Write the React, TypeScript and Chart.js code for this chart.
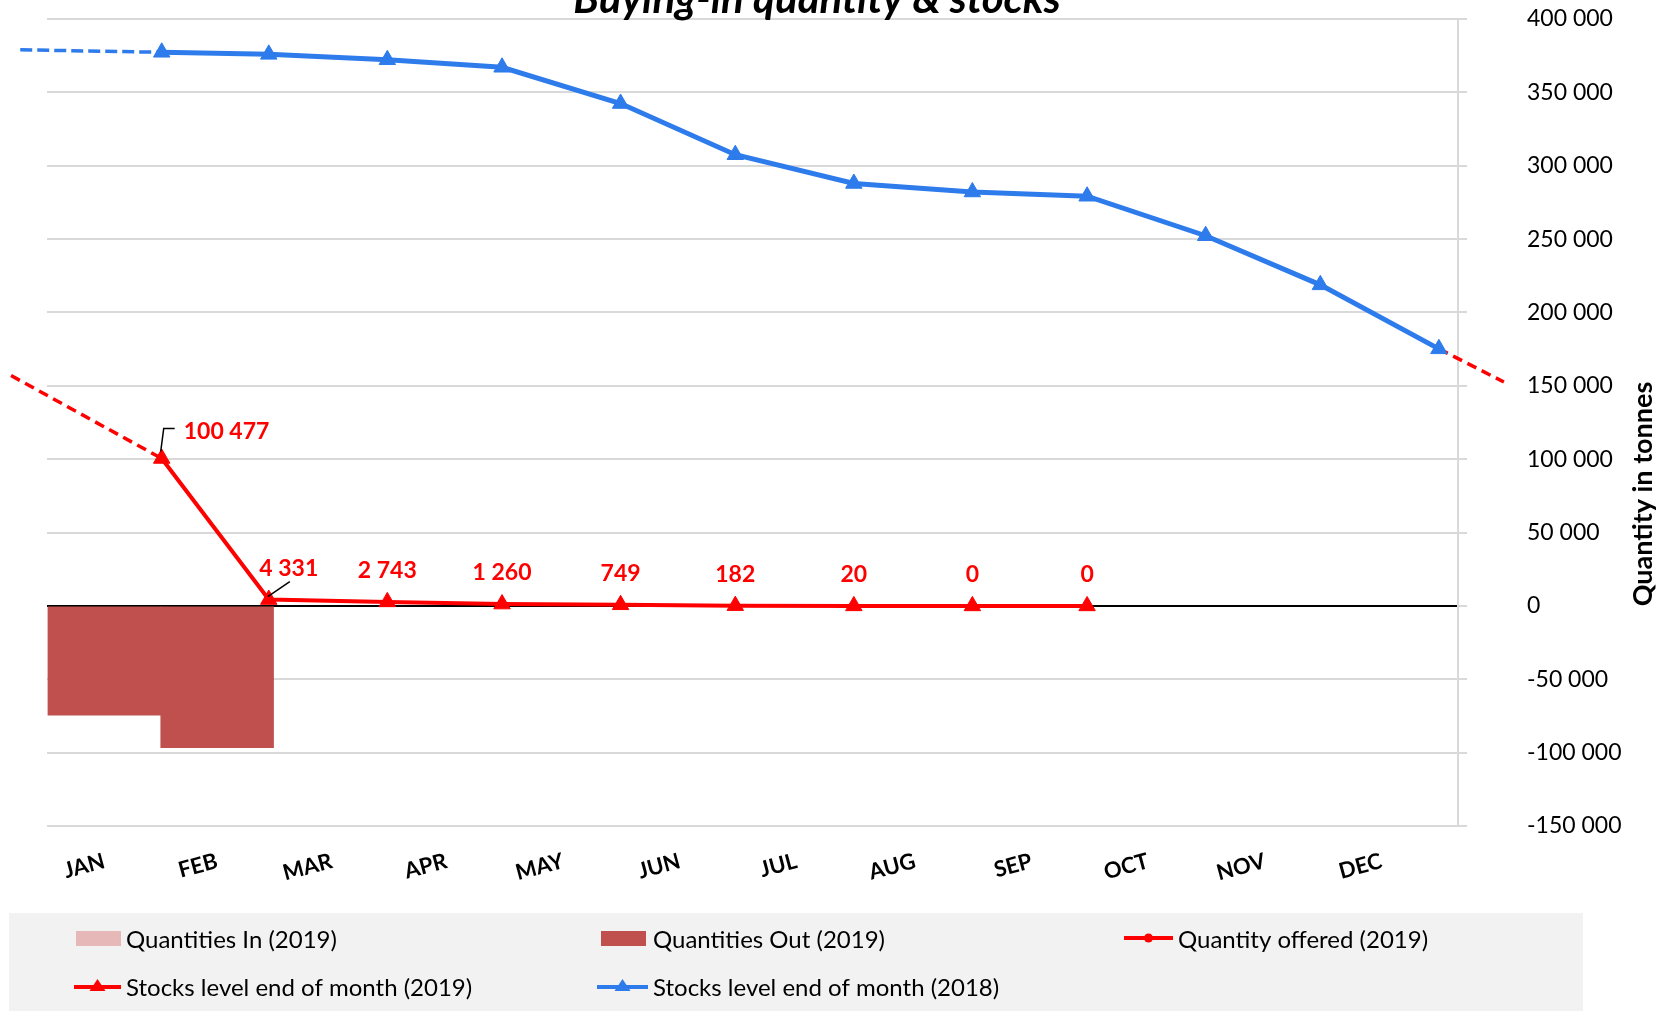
import React, { useEffect, useRef } from 'react';
import { Chart, registerables } from 'chart.js';

Chart.register(...registerables);

// ---------- data ----------
const monthLabels = ['JAN', 'FEB', 'MAR', 'APR', 'MAY', 'JUN', 'JUL', 'AUG', 'SEP', 'OCT', 'NOV', 'DEC'];
// day-of-year of the middle / the end of each month
const monthMidDay = [16, 45.5, 75.5, 105.5, 136, 166.5, 197, 228, 258.5, 289, 319.5, 350];
const monthEndDay = [31, 59, 90, 120, 151, 181, 212, 243, 273, 304, 334, 365];

const quantitiesIn2019: (number | null)[] = [null, null, null, null, null, null, null, null, null, null, null, null];
const quantitiesOut2019: (number | null)[] = [-74500, -96700, null, null, null, null, null, null, null, null, null, null];
const quantityOffered2019: (number | null)[] = [null, null, null, null, null, null, null, null, null, null, null, null];
const stocks2019: (number | null)[] = [100477, 4331, 2743, 1260, 749, 182, 20, 0, 0, null, null, null];
const stocks2018: (number | null)[] = [377300, 375900, 372200, 367100, 342400, 307500, 287900, 282100, 279200, 252300, 218800, 175200];

// dashed links to the neighbouring years
const link2018PrevX = [-6, 31];
const link2018PrevY = [379000, 377300];
const link2019PrevX = [-8.4, 31];
const link2019PrevY = [157000, 100477];
const link2019NextX = [365, 382];
const link2019NextY = [175200, 152600];

const yMin = -150000;
const yMax = 400000;
const yStep = 50000;
const xMinDay = 1;
const xMaxDay = 370;

const TITLE = 'Buying-in quantity & stocks';
const Y_TITLE = 'Quantity in tonnes';

// ---------- styles ----------
const RED = '#FF0000';
const BLUE = '#2E7BEB';
const BAR_OUT = '#C0504D';
const BAR_IN = '#E6B9B8';
const GRID = '#D9D9D9';
const FONT = 'Lato';

const fmt = (v: number) => {
  const s = Math.abs(Math.round(v)).toString().replace(/\B(?=(\d{3})+(?!\d))/g, ' ');
  return (v < 0 ? '-' : '') + s;
};
const pts = (xs: number[], ys: (number | null)[]) => xs.map((x, i) => ({ x, y: ys[i] }));

const labelStyle: Record<number, any> = {
  0: { dx: 22, dy: -27, align: 'left', leader: [[-1, -7], [2, -30], [13, -30]] },
  1: { dx: 20, dy: -31, align: 'center', leader: [[-1, -3], [21, -18]] },
};

function drawTriangle(ctx: CanvasRenderingContext2D, x: number, y: number, w: number, h: number) {
  ctx.beginPath();
  ctx.moveTo(x, y - h / 2);
  ctx.lineTo(x + w / 2, y + h / 2);
  ctx.lineTo(x - w / 2, y + h / 2);
  ctx.closePath();
  ctx.fill();
}

const decorPlugin = {
  id: 'decor',
  afterDatasetsDraw(chart: any) {
    const ctx: CanvasRenderingContext2D = chart.ctx;
    const meta = chart.getDatasetMeta(0);
    ctx.save();
    ctx.font = `bold 23px ${FONT}`;
    ctx.textBaseline = 'middle';
    meta.data.forEach((el: any, i: number) => {
      const v = stocks2019[i];
      if (v === null || v === undefined) return;
      const st = labelStyle[i] || { dx: 0, dy: -31, align: 'center' };
      ctx.textAlign = st.align;
      ctx.fillStyle = RED;
      ctx.fillText(fmt(v), el.x + st.dx, el.y + st.dy);
      if (st.leader) {
        ctx.strokeStyle = '#000';
        ctx.lineWidth = 1.5;
        ctx.beginPath();
        st.leader.forEach((p: number[], k: number) => {
          if (k === 0) ctx.moveTo(el.x + p[0], el.y + p[1]);
          else ctx.lineTo(el.x + p[0], el.y + p[1]);
        });
        ctx.stroke();
      }
    });
    ctx.restore();
  },
  afterDraw(chart: any) {
    const ctx: CanvasRenderingContext2D = chart.ctx;
    ctx.save();
    // title (cut by the top edge)
    ctx.font = `italic bold 42px ${FONT}`;
    ctx.fillStyle = '#000';
    ctx.textAlign = 'center';
    ctx.textBaseline = 'alphabetic';
    ctx.fillText(TITLE, 817, 13);

    // y axis title, reading bottom-to-top
    ctx.save();
    ctx.translate(1643, 494);
    ctx.rotate(-Math.PI / 2);
    ctx.font = `bold 27px ${FONT}`;
    ctx.textAlign = 'center';
    ctx.textBaseline = 'middle';
    ctx.fillText(Y_TITLE, 0, 0);
    ctx.restore();

    // legend
    ctx.fillStyle = '#F2F2F2';
    ctx.fillRect(9, 913, 1574, 98);
    ctx.font = `24px ${FONT}`;
    ctx.textAlign = 'left';
    ctx.textBaseline = 'middle';
    const ds = chart.data.datasets;
    const row1 = 940;
    const row2 = 988;
    // Quantities In
    ctx.fillStyle = BAR_IN;
    ctx.fillRect(76, 931, 45, 15);
    ctx.fillStyle = '#000';
    ctx.fillText(ds[6].label, 126, row1);
    // Quantities Out
    ctx.fillStyle = BAR_OUT;
    ctx.fillRect(601, 931, 45, 15);
    ctx.fillStyle = '#000';
    ctx.fillText(ds[7].label, 653, row1);
    // Quantity offered
    ctx.strokeStyle = RED;
    ctx.lineWidth = 4;
    ctx.beginPath();
    ctx.moveTo(1124, 938);
    ctx.lineTo(1173, 938);
    ctx.stroke();
    ctx.fillStyle = RED;
    ctx.beginPath();
    ctx.arc(1148.5, 938, 4.5, 0, Math.PI * 2);
    ctx.fill();
    ctx.fillStyle = '#000';
    ctx.fillText(ds[2].label, 1178, row1);
    // Stocks 2019
    ctx.strokeStyle = RED;
    ctx.beginPath();
    ctx.moveTo(74, 987);
    ctx.lineTo(121, 987);
    ctx.stroke();
    ctx.fillStyle = RED;
    drawTriangle(ctx, 97.5, 985, 16, 12);
    ctx.fillStyle = '#000';
    ctx.fillText(ds[0].label, 126, row2);
    // Stocks 2018
    ctx.strokeStyle = BLUE;
    ctx.beginPath();
    ctx.moveTo(597, 987);
    ctx.lineTo(648, 987);
    ctx.stroke();
    ctx.fillStyle = BLUE;
    drawTriangle(ctx, 622.5, 985, 16, 12);
    ctx.fillStyle = '#000';
    ctx.fillText(ds[1].label, 653, row2);
    ctx.restore();
  },
};

export default function App() {
  const canvasRef = useRef<HTMLCanvasElement | null>(null);

  useEffect(() => {
    const canvas = canvasRef.current;
    if (!canvas) return;
    Chart.defaults.font.family = FONT;
    const lineCommon = { showLine: true, spanGaps: false, tension: 0, clip: false as any };
    const chart = new Chart(canvas, {
      type: 'line',
      data: {
        datasets: [
          {
            ...lineCommon,
            type: 'line',
            label: 'Stocks level end of month (2019)',
            data: pts(monthEndDay, stocks2019),
            borderColor: RED,
            backgroundColor: RED,
            borderWidth: 4,
            pointStyle: 'triangle',
            pointRadius: 9.5,
            pointBorderWidth: 1,
            pointBackgroundColor: RED,
            pointBorderColor: RED,
            order: 1,
          },
          {
            ...lineCommon,
            type: 'line',
            label: 'Stocks level end of month (2018)',
            data: pts(monthEndDay, stocks2018),
            borderColor: BLUE,
            backgroundColor: BLUE,
            borderWidth: 5,
            pointStyle: 'triangle',
            pointRadius: 9.5,
            pointBorderWidth: 1,
            pointBackgroundColor: BLUE,
            pointBorderColor: BLUE,
            order: 2,
          },
          {
            ...lineCommon,
            type: 'line',
            label: 'Quantity offered (2019)',
            data: pts(monthEndDay, quantityOffered2019),
            borderColor: RED,
            backgroundColor: RED,
            borderWidth: 3.5,
            pointStyle: 'circle',
            pointRadius: 4,
            order: 1,
          },
          {
            ...lineCommon,
            type: 'line',
            label: 'link 2018 prev',
            data: pts(link2018PrevX, link2018PrevY),
            borderColor: BLUE,
            borderWidth: 3.5,
            borderDash: [12, 5],
            pointRadius: 0,
            order: 3,
          },
          {
            ...lineCommon,
            type: 'line',
            label: 'link 2019 prev',
            data: pts(link2019PrevX, link2019PrevY),
            borderColor: RED,
            borderWidth: 3.5,
            borderDash: [10, 6],
            pointRadius: 0,
            order: 3,
          },
          {
            ...lineCommon,
            type: 'line',
            label: 'link 2019 next',
            data: pts(link2019NextX, link2019NextY),
            borderColor: RED,
            borderWidth: 3.5,
            borderDash: [10, 6],
            pointRadius: 0,
            order: 3,
          },
          {
            type: 'bar',
            label: 'Quantities In (2019)',
            data: pts(monthMidDay, quantitiesIn2019),
            backgroundColor: BAR_IN,
            grouped: false,
            barPercentage: 1,
            categoryPercentage: 1,
            order: 5,
          } as any,
          {
            type: 'bar',
            label: 'Quantities Out (2019)',
            data: pts(monthMidDay, quantitiesOut2019),
            backgroundColor: BAR_OUT,
            grouped: false,
            barPercentage: 1,
            categoryPercentage: 1,
            order: 5,
          } as any,
        ],
      },
      options: {
        responsive: false,
        animation: false,
        devicePixelRatio: 1,
        layout: { padding: { left: 47, top: 19, right: 0, bottom: 0 }, autoPadding: false },
        plugins: {
          legend: { display: false },
          title: { display: false },
          tooltip: { enabled: false },
        },
        scales: {
          x: {
            type: 'linear',
            position: 'bottom',
            min: xMinDay,
            max: xMaxDay,
            bounds: 'data',
            offset: false,
            grid: { display: false, drawTicks: false, offset: false },
            border: { display: false },
            afterBuildTicks: (scale: any) => {
              scale.ticks = monthMidDay.map((v) => ({ value: v }));
            },
            afterFit: (scale: any) => {
              scale.height = 185;
              scale.paddingLeft = 0;
              scale.paddingRight = 0;
            },
            ticks: {
              autoSkip: false,
              minRotation: 15,
              maxRotation: 15,
              padding: 22,
              color: '#000',
              font: { family: FONT, size: 22, weight: 'bold' },
              callback: (_v: any, i: number) => monthLabels[i],
            },
          },
          y: {
            type: 'linear',
            position: 'right',
            min: yMin,
            max: yMax,
            afterFit: (scale: any) => {
              scale.width = 215;
              scale.paddingTop = 0;
              scale.paddingBottom = 0;
            },
            grid: {
              color: (c: any) => (c.tick && c.tick.value === 0 ? '#000' : GRID),
              tickColor: GRID,
              lineWidth: 2,
              drawTicks: true,
              tickLength: 9,
            },
            border: { display: true, color: GRID, width: 2 },
            ticks: {
              stepSize: yStep,
              padding: 60,
              color: '#000',
              font: { family: FONT, size: 23 },
              callback: (v: any) => fmt(Number(v)),
            },
          },
        },
      } as any,
      plugins: [decorPlugin],
    });
    return () => chart.destroy();
  }, []);

  return (
    <div style={{ position: 'absolute', left: 0, top: 0, width: 1673, height: 1011, background: '#fff' }}>
      <canvas ref={canvasRef} width={1673} height={1011} style={{ display: 'block' }} />
    </div>
  );
}
